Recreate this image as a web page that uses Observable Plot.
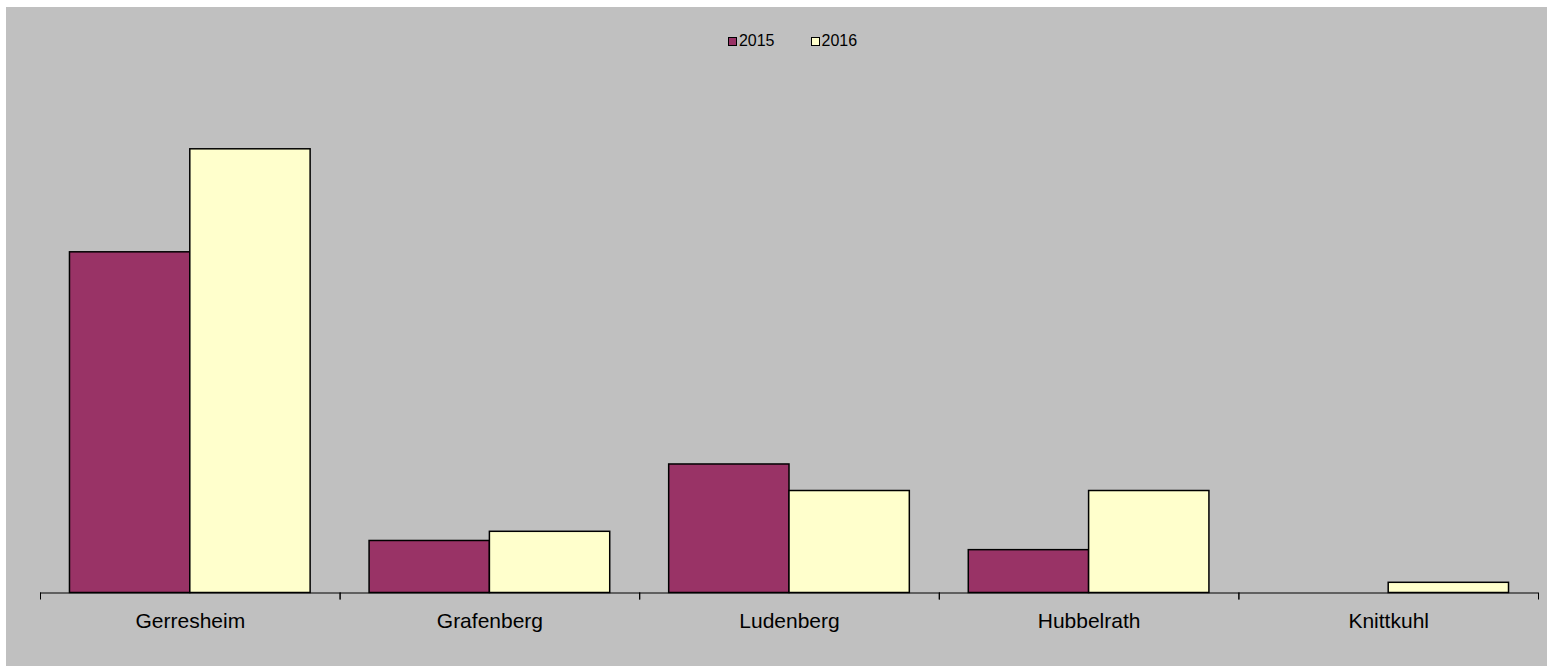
<!DOCTYPE html>
<html>
<head>
<meta charset="utf-8">
<script src="https://cdn.jsdelivr.net/npm/d3@7"></script>
<script src="https://cdn.jsdelivr.net/npm/@observablehq/plot@0.6"></script>
<style>
  html, body { margin: 0; padding: 0; background: #ffffff; }
  #panel {
    position: absolute; left: 6px; top: 7px; width: 1541px; height: 659px;
    background: #c0c0c0; font-family: "Liberation Sans", Arial, sans-serif;
  }
  #legend {
    height: 68px; box-sizing: border-box; padding-top: 24px; padding-left: 32px;
    display: flex; justify-content: center; align-items: flex-start;
    font-size: 16px; color: #000;
  }
  .item { display: flex; align-items: center; margin: 0 18px; line-height: 20px; }
  .sw { width: 7px; height: 7px; border: 1px solid #000; margin-right: 2px; }
</style>
</head>
<body>
<div id="panel">
  <div id="legend"></div>
  <div id="chart"></div>
</div>
<script>
const districts = ["Gerresheim", "Grafenberg", "Ludenberg", "Hubbelrath", "Knittkuhl"];
const years = ["2015", "2016"];
const values2015 = [33.4, 5.1, 12.6, 4.2, 0];
const values2016 = [43.5, 6.0, 10.0, 10.0, 1.0];
const colors = ["#993366", "#ffffcc"];

const data = [];
districts.forEach((d, i) => {
  data.push({district: d, year: years[0], value: values2015[i]});
  data.push({district: d, year: years[1], value: values2016[i]});
});

const legend = document.getElementById("legend");
years.forEach((y, i) => {
  const it = document.createElement("div");
  it.className = "item";
  const sw = document.createElement("span");
  sw.className = "sw";
  sw.style.background = colors[i];
  const t = document.createElement("span");
  t.textContent = y;
  it.appendChild(sw); it.appendChild(t);
  legend.appendChild(it);
});

const chart = Plot.plot({
  width: 1541,
  height: 591,
  marginLeft: 34,
  marginRight: 9,
  marginTop: 7.5,
  marginBottom: 73.5,
  style: {background: "transparent", fontFamily: "'Liberation Sans', Arial, sans-serif", color: "#000"},
  fx: {domain: districts, padding: 0, round: false, axis: null},
  x: {domain: years, paddingInner: 0, paddingOuter: 0.245, round: false, axis: null},
  y: {domain: [0, 50], axis: null},
  color: {domain: years, range: colors},
  marks: [
    Plot.barY(data.filter(d => d.value > 0), {fx: "district", x: "year", y: "value", fill: "year", stroke: "#000", strokeWidth: 1.5}),
    Plot.ruleY([0], {stroke: "#000", strokeWidth: 1}),
    Plot.frame({anchor: "left", insetTop: 510, insetBottom: -6, stroke: "#000", strokeWidth: 1}),
    Plot.frame({anchor: "right", insetTop: 510, insetBottom: -6, stroke: "#000", strokeWidth: 1}),
    Plot.axisFx({anchor: "bottom", tickSize: 0, tickPadding: 20, fontSize: 21, label: null})
  ]
});
document.getElementById("chart").appendChild(chart);
</script>
</body>
</html>
